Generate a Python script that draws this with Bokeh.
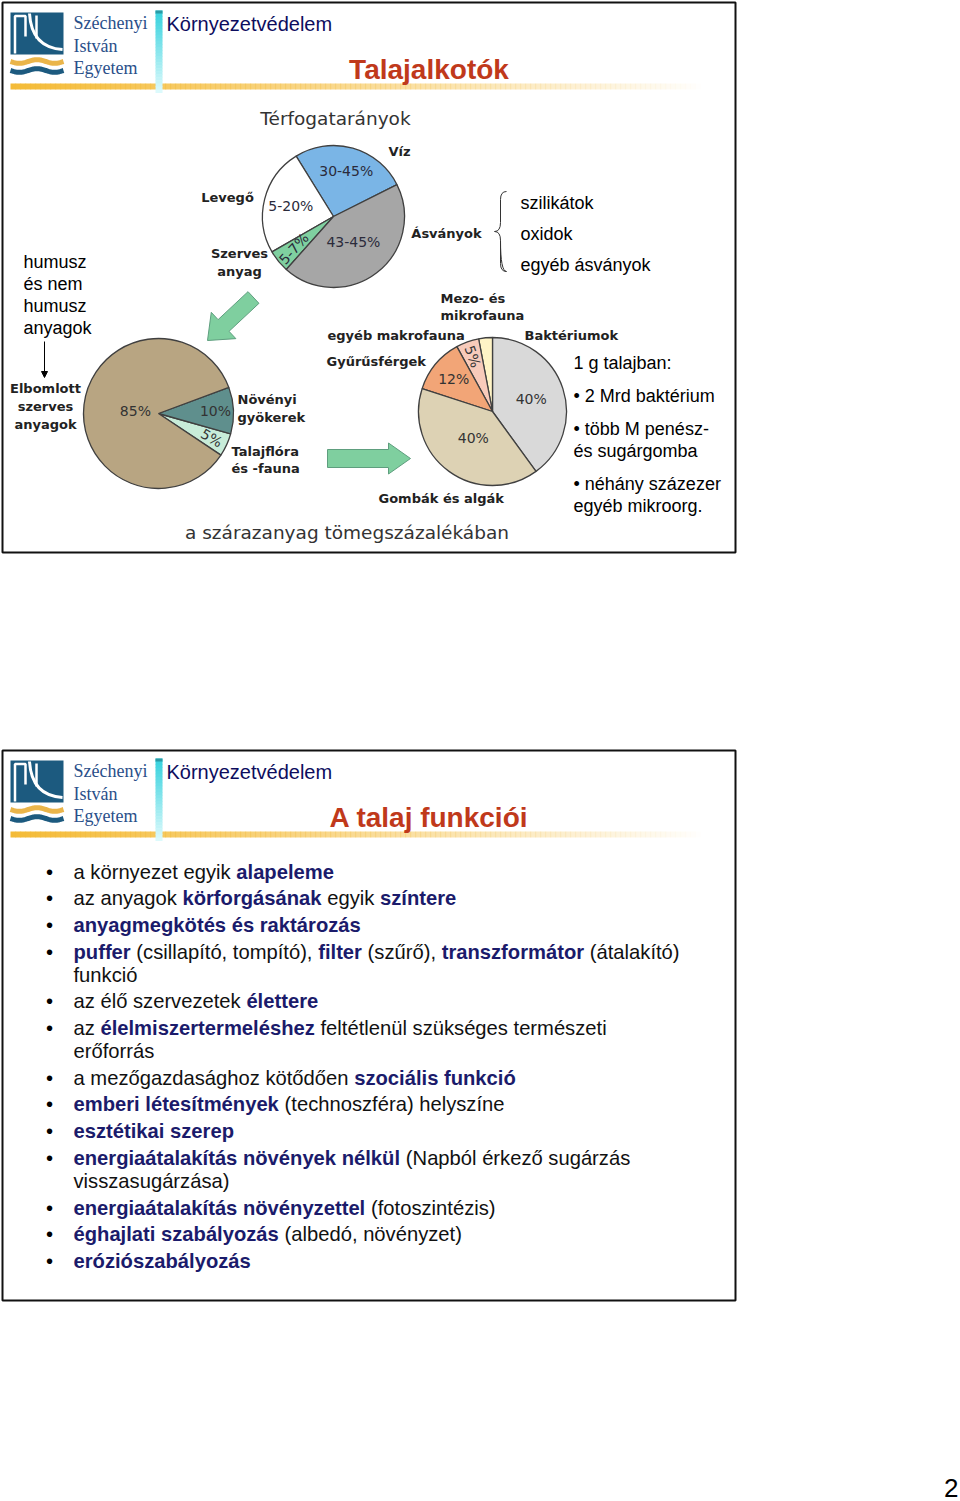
import unicodedata
import numpy as np
from bokeh.plotting import figure
from bokeh.models import Range1d, Arrow, NormalHead
from bokeh.core.properties import value
from bokeh.embed import file_html
from bokeh.resources import INLINE

# ---------------- data ----------------
volume_title = "Térfogatarányok"
volume_labels = ["Víz", "Levegő", "Szerves anyag", "Ásványok"]
volume_values = [26.4, 24.5, 5.1, 44.0]
volume_pct = ["30-45%", "5-20%", "5-7%", "43-45%"]

organic_labels = ["Talajflóra és -fauna", "Növényi gyökerek", "Elbomlott szerves anyagok"]
organic_values = [5, 10, 85]
organic_pct = ["5%", "10%", "85%"]

organism_labels = ["Baktériumok", "Mezo- és mikrofauna", "egyéb makrofauna", "Gyűrűsférgek", "Gombák és algák"]
organism_values = [40, 3, 5, 12, 40]
organism_pct = ["40%", "", "5%", "12%", "40%"]

mineral_items = ["szilikátok", "oxidok", "egyéb ásványok"]
humus_lines = ["humusz", "és nem", "humusz", "anyagok"]
soil_gram_lines = ["1 g talajban:", "• 2 Mrd baktérium", "• több M penész-", "és sugárgomba",
                   "• néhány százezer", "egyéb mikroorg."]
dry_matter_caption = "a szárazanyag tömegszázalékában"

# bullets of slide 2: each bullet -> rows -> segments (text, bold)
function_items = [
    [[("a környezet egyik ", 0), ("alapeleme", 1)]],
    [[("az anyagok ", 0), ("körforgásának", 1), (" egyik ", 0), ("színtere", 1)]],
    [[("anyagmegkötés és raktározás", 1)]],
    [[("puffer", 1), (" (csillapító, tompító), ", 0), ("filter", 1), (" (szűrő), ", 0),
      ("transzformátor", 1), (" (átalakító)", 0)], [("funkció", 0)]],
    [[("az élő szervezetek ", 0), ("élettere", 1)]],
    [[("az ", 0), ("élelmiszertermeléshez", 1), (" feltétlenül szükséges természeti", 0)],
     [("erőforrás", 0)]],
    [[("a mezőgazdasághoz kötődően ", 0), ("szociális funkció", 1)]],
    [[("emberi létesítmények", 1), (" (technoszféra) helyszíne", 0)]],
    [[("esztétikai szerep", 1)]],
    [[("energiaátalakítás növények nélkül", 1), (" (Napból érkező sugárzás", 0)],
     [("visszasugárzása)", 0)]],
    [[("energiaátalakítás növényzettel", 1), (" (fotoszintézis)", 0)]],
    [[("éghajlati szabályozás", 1), (" (albedó, növényzet)", 0)]],
    [[("eróziószabályozás", 1)]],
]

# ---------------- styles ----------------
LOGO_BLUE = "#1c5a7f"
NAVY = "#1b1b6b"
TITLE_RED = "#c0391b"
SANS = "Liberation Sans"
VERD = "DejaVu Sans"
SERIF = "Liberation Serif"

W, H = 960, 1501
p = figure(width=W, height=H, x_range=Range1d(0, W), y_range=Range1d(H, 0),
           output_backend="svg", toolbar_location=None, min_border=0,
           x_axis_type=None, y_axis_type=None)
p.grid.visible = False
p.outline_line_color = None
p.background_fill_color = "white"


def txt(xs, ys, texts, size, color="black", font=SANS, style="normal",
        align="left", baseline="middle", angle=0.0):
    p.text(x=list(xs), y=list(ys), text=list(texts), text_font=value(font),
           text_font_size=f"{size}px", text_color=color, text_font_style=style,
           text_align=align, text_baseline=baseline, angle=angle)


# Arial metrics (1/1000 em) for layout of mixed bold/regular runs
AR = dict(zip(" (),-.:", [278, 333, 333, 278, 333, 278, 278]))
AR.update(dict(zip("abcdefghijklmnopqrstuvwxyz",
                   [556, 556, 500, 556, 556, 278, 556, 556, 222, 222, 500, 222, 833, 556, 556, 556,
                    556, 333, 500, 278, 556, 500, 722, 500, 500, 500])))
AB = dict(zip(" (),-.:", [278, 333, 333, 278, 333, 278, 333]))
AB.update(dict(zip("abcdefghijklmnopqrstuvwxyz",
                   [556, 611, 556, 611, 556, 333, 611, 611, 278, 278, 556, 278, 889, 611, 611, 611,
                    611, 389, 556, 333, 611, 556, 778, 556, 556, 500])))
AR["í"] = 278
AB["í"] = 278


def seg_width(s, bold, size):
    tbl = AB if bold else AR
    w = 0
    for ch in s:
        if ch in tbl:
            w += tbl[ch]
        else:
            w += tbl.get(unicodedata.normalize("NFD", ch)[0], 556)
    return w * size / 1000.0


def header(o, title):
    # logo block
    p.quad(left=[10], right=[63], top=[12 + o], bottom=[54 + o], fill_color=LOGO_BLUE, line_color=None)
    p.multi_line(xs=[[14.5, 14.5, 25, 25], [36, 36]],
                 ys=[[53 + o, 15.5 + o, 15.5 + o, 36 + o], [15 + o, 38 + o]],
                 line_color="white", line_width=2.5)
    p.quadratic(x0=[29], y0=[13 + o], x1=[62], y1=[49 + o], cx=[31], cy=[47 + o],
                line_color="white", line_width=3)
    wx = np.linspace(10, 63, 40)
    ph = (wx - 10) / 53 * 2 * np.pi * 1.5
    p.line(wx, 61 + o + 1.8 * np.sin(ph), line_color="#eab54a", line_width=5)
    p.line(wx, 70 + o + 1.8 * np.sin(ph), line_color=LOGO_BLUE, line_width=5)
    txt([73, 73, 73], [22 + o, 45 + o, 67 + o], ["Széchenyi", "István", "Egyetem"], 18,
        color="#2a4f8a", font=SERIF)
    # gold gradient bar
    gx = np.linspace(10, 700, 139)
    t = (gx[:-1] - 10) / 690.0
    p.quad(left=gx[:-1], right=gx[1:] + 0.6, top=83 + o, bottom=89 + o,
           fill_color="#f4bb38", fill_alpha=np.clip(1 - t, 0, 1) ** 0.9, line_color=None)
    # cyan bar
    cyv = np.linspace(10 + o, 92 + o, 28)
    c0 = np.array([55, 210, 222]); c1 = np.array([220, 250, 252])
    cols = ["#%02x%02x%02x" % tuple((c0 + (c1 - c0) * k / 26.0).astype(int)) for k in range(27)]
    p.quad(left=155, right=162, top=cyv[:-1], bottom=cyv[1:] + 0.5, fill_color=cols, line_color=None)
    p.quad(left=[155], right=[162], top=[10 + o], bottom=[13 + o], fill_color="#2a9aa5", line_color=None)
    txt([166], [23 + o], ["Környezetvédelem"], 20, color="#0d0d5e")
    txt([428.5], [69 + o], [title], 28, color=TITLE_RED, style="bold", align="center")


def pie(cx, cy, r, values, start_deg, colors, labels, rfrac, tangle_deg, size=14, color="#333333"):
    v = np.asarray(values, float)
    edges = np.radians(start_deg) + 2 * np.pi * np.concatenate([[0], np.cumsum(v)]) / v.sum()
    p.wedge(x=[cx] * len(v), y=[cy] * len(v), radius=r, start_angle=edges[:-1], end_angle=edges[1:],
            fill_color=colors, line_color="#404040", line_width=1.3)
    mid = (edges[:-1] + edges[1:]) / 2
    rf = np.asarray(rfrac, float)
    lx = cx + rf * r * np.cos(mid)
    ly = cy - rf * r * np.sin(mid)
    txt(lx, ly, labels, size, color=color, font=VERD, align="center",
        angle=list(np.radians(tangle_deg)))


def block_arrow(x0, y0, x1, y1, shw, hhw, hl, color="#7fcf9f", line="#5e9e7e"):
    d = np.array([x1 - x0, y1 - y0], float)
    u = d / np.hypot(*d)
    n = np.array([-u[1], u[0]])
    a = np.array([x0, y0], float)
    tip = np.array([x1, y1], float)
    b = tip - u * hl
    pts = [a + n * shw, b + n * shw, b + n * hhw, tip, b - n * hhw, b - n * shw, a - n * shw]
    p.patch([q[0] for q in pts], [q[1] for q in pts], fill_color=color, line_color=line, line_width=1)


# ---------------- frames ----------------
p.quad(left=[2], right=[735], top=[2], bottom=[552], fill_color=None, line_color="#111111", line_width=2)
p.quad(left=[2], right=[735], top=[750], bottom=[1300], fill_color=None, line_color="#111111", line_width=2)

# ---------------- slide 1 ----------------
header(0, "Talajalkotók")

txt([335], [118], [volume_title], 18.5, color="#333333", font=VERD, align="center")
pie(333, 216, 71, volume_values, 26.7, ["#7ab5e6", "#ffffff", "#7fd0a0", "#a6a6a6"],
    volume_pct, [0.66, 0.62, 0.72, 0.46], [0, 0, 48, 0], color="#2b2b3b")
txt([399, 227, 446, 239, 239], [151, 197, 233, 253, 271],
    ["Víz", "Levegő", "Ásványok", "Szerves", "anyag"], 13, color="#222222", font=VERD,
    style="bold", align="center")

# brace + mineral list
p.quadratic(x0=[506, 500, 494, 500], y0=[191, 222, 231, 240], x1=[500, 494, 500, 506],
            y1=[199, 231, 240, 271], cx=[500, 500, 500, 500], cy=[191, 231, 231, 271],
            line_color="#333333", line_width=1)
p.segment(x0=[500, 500], y0=[199, 240], x1=[500, 500], y1=[222, 263], line_color="#333333", line_width=1)
p.quadratic(x0=[500], y0=[263], x1=[506], y1=[271], cx=[500], cy=[271], line_color="#333333", line_width=1)
txt([520] * 3, [202, 233, 264], mineral_items, 18)

# humus text + arrow
txt([23] * 4, [261, 283, 305, 327], humus_lines, 18)
p.add_layout(Arrow(x_start=44, y_start=341, x_end=44, y_end=377, line_width=1, line_color="black",
                   end=NormalHead(size=6, fill_color="black", line_color="black")))
txt([45, 45, 45], [388, 406, 424], ["Elbomlott", "szerves", "anyagok"], 13, color="#222222",
    font=VERD, style="bold", align="center")

block_arrow(253, 297, 207, 340, 8, 18, 22)

pie(158, 413, 75, organic_values, -33.7, ["#c8ecd9", "#5f8f8d", "#b8a582"],
    organic_pct, [0.78, 0.76, 0.31], [-30, 0, 0], color="#333333")
txt([237, 237, 231, 231], [399, 417, 451, 468], ["Növényi", "gyökerek", "Talajflóra", "és -fauna"], 13,
    color="#222222", font=VERD, style="bold")

block_arrow(327, 458, 410, 458, 9, 15.5, 22)

pie(492, 411, 74, organism_values, -54, ["#d9d9d9", "#fff4c6", "#f8cbbb", "#f2a577", "#ddd2b4"],
    organism_pct, [0.55, 0.0, 0.79, 0.68, 0.44], [0, 0, -70, 0, 0], color="#333333")
txt([440, 440, 327, 524, 326, 378], [298, 315, 335, 335, 361, 498],
    ["Mezo- és", "mikrofauna", "egyéb makrofauna", "Baktériumok", "Gyűrűsférgek", "Gombák és algák"], 13,
    color="#222222", font=VERD, style="bold")

txt([573] * 6, [362, 395, 428, 450, 483, 505], soil_gram_lines, 18)
txt([346.5], [532], [dry_matter_caption], 18.5, color="#333333", font=VERD, align="center")

# ---------------- slide 2 ----------------
header(748, "A talaj funkciói")

FS = 20.2
reg_x, reg_y, reg_t = [], [], []
bold_x, bold_y, bold_t = [], [], []
bul_y = []
yb = 871.0
for item in function_items:
    bul_y.append(yb)
    for ri, row in enumerate(item):
        if ri > 0:
            yb += 23.0
        x = 73.0
        for s, b in row:
            lead = len(s) - len(s.lstrip(" "))
            xd = x + seg_width(s[:lead], b, FS)
            if b:
                bold_x.append(xd); bold_y.append(yb); bold_t.append(s.strip())
            else:
                reg_x.append(xd); reg_y.append(yb); reg_t.append(s.strip())
            x += seg_width(s, b, FS)
    yb += 26.7
txt([49] * len(bul_y), bul_y, ["•"] * len(bul_y), FS, align="center")
txt(reg_x, reg_y, reg_t, FS, color="#111111")
txt(bold_x, bold_y, bold_t, FS, color=NAVY, style="bold")

txt([958], [1487], ["2"], 26, align="right")

open("out.html", "w").write(file_html(p, INLINE))
